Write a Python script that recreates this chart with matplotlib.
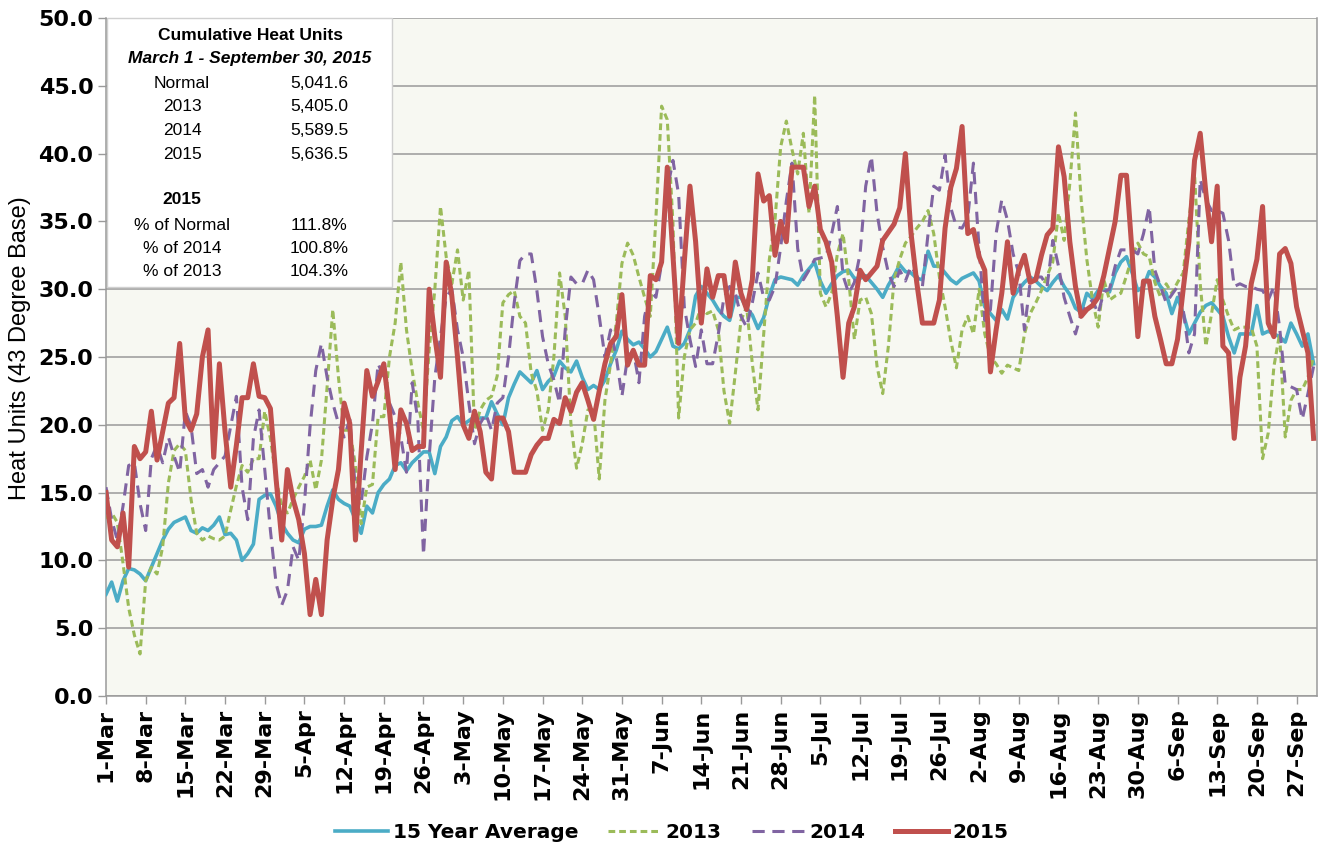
import matplotlib
matplotlib.use('Agg')
import matplotlib.pyplot as plt
import numpy as np
from matplotlib.patches import Rectangle
from matplotlib.ticker import FormatStrFormatter

plt.rcParams['font.family'] = ['Liberation Sans', 'DejaVu Sans']

# daily heat units, 1-Mar .. 30-Sep (one row = one week)
avg15 = [
    7.5, 8.4, 7.0, 8.5, 9.4, 9.3, 9.0,
    8.5, 9.5, 10.5, 11.5, 12.3, 12.8, 13.0,
    13.2, 12.2, 12.0, 12.4, 12.2, 12.6, 13.2,
    11.9, 12.0, 11.5, 10.0, 10.5, 11.2, 14.5,
    14.8, 14.9, 14.0, 12.7, 12.0, 11.5, 11.3,
    12.3, 12.5, 12.5, 12.6, 14.0, 15.2, 14.5,
    14.2, 14.0, 13.0, 12.0, 14.0, 13.5, 15.0,
    15.6, 16.0, 17.0, 17.2, 16.6, 17.2, 17.6,
    18.0, 18.0, 16.4, 18.4, 19.1, 20.3, 20.6,
    20.0, 20.3, 20.6, 20.5, 20.5, 21.7, 20.8,
    20.0, 22.0, 23.0, 23.9, 23.5, 23.1, 24.0,
    22.6, 23.2, 23.6, 24.7, 24.2, 23.9, 24.7,
    23.5, 22.6, 22.9, 22.6, 23.3, 24.5, 25.5,
    26.9, 26.3, 25.9, 26.1, 25.6, 25.0, 25.4,
    26.3, 27.2, 25.8, 25.6, 26.0, 27.0, 29.5,
    30.2, 29.7, 29.2, 28.5, 28.0, 27.7, 29.4,
    29.4, 28.6, 28.1, 27.1, 27.9, 29.5, 30.7,
    30.9, 30.8, 30.7, 30.3, 31.0, 31.5, 32.0,
    30.6, 29.7, 30.4, 31.0, 31.3, 31.4, 30.8,
    30.8, 31.0, 30.5, 30.0, 29.4, 30.3, 31.0,
    31.8, 31.3, 31.2, 30.8, 30.7, 32.8, 31.7,
    31.7, 31.2, 30.7, 30.4, 30.8, 31.0, 31.2,
    30.6, 28.7, 28.2, 27.7, 28.5, 27.8, 29.4,
    30.0, 30.5, 30.9, 30.6, 30.2, 29.9, 30.5,
    31.0, 30.2, 29.6, 28.6, 28.3, 29.7, 29.3,
    29.9, 30.0, 29.8, 31.2, 32.0, 32.4, 31.2,
    29.9, 30.2, 31.3, 30.9, 30.2, 29.7, 28.2,
    29.4, 28.2, 26.7, 27.5, 28.3, 28.8, 29.0,
    28.5, 28.0, 26.5, 25.3, 26.7, 26.7, 26.7,
    28.8, 26.7, 26.9, 26.7, 26.5, 26.1, 27.5,
    26.7, 25.8, 26.7, 24.5,
]

y2013 = [
    13.1, 13.5, 12.8, 9.8, 6.5, 4.5, 3.1,
    8.5, 9.5, 9.0, 11.0, 15.7, 18.1, 18.6,
    18.1, 14.5, 12.0, 11.5, 11.8, 11.6, 11.5,
    11.8, 13.7, 15.5, 17.0, 16.5, 17.5, 17.5,
    21.0, 19.0, 16.0, 14.0, 13.5, 14.5, 15.4,
    16.2, 17.4, 15.2, 17.4, 22.8, 28.5, 23.5,
    19.6, 19.6, 17.0, 12.7, 15.4, 15.6, 20.6,
    20.6, 25.0, 27.5, 32.0, 27.0, 24.0, 21.6,
    19.6, 25.5, 30.0, 36.1, 32.4, 30.4, 32.9,
    29.2, 31.4, 19.6, 21.1, 21.8, 22.1, 23.6,
    29.0, 29.6, 29.9, 28.0, 27.5, 23.8, 22.5,
    19.6, 21.1, 25.0, 31.2, 28.0, 20.1, 16.8,
    18.6, 21.1, 21.1, 16.0, 21.8, 24.5, 27.5,
    31.9, 33.4, 32.5, 30.9, 29.4, 28.0, 35.3,
    43.5, 42.5, 34.9, 20.5, 25.0, 27.0, 27.5,
    28.7, 28.2, 28.4, 27.0, 22.5, 20.1, 23.8,
    27.7, 28.7, 24.5, 21.1, 26.7, 32.2, 35.1,
    40.5, 42.4, 40.3, 38.5, 41.5, 35.6, 44.3,
    29.7, 28.7, 29.7, 32.6, 34.1, 30.7, 26.3,
    29.2, 29.4, 28.2, 24.3, 22.3, 25.8, 30.7,
    32.2, 33.4, 33.9, 34.5, 35.0, 35.8, 34.1,
    30.9, 28.7, 26.2, 24.2, 27.0, 28.0, 26.7,
    30.0, 26.7, 25.0, 24.5, 23.8, 24.4, 24.2,
    24.0, 26.7, 28.2, 29.0, 29.9, 31.0, 32.0,
    35.6, 33.6, 37.8, 43.0, 36.6, 32.2, 29.2,
    27.2, 30.7, 29.2, 29.5, 29.7, 31.0, 32.4,
    33.4, 32.6, 32.4, 30.5, 29.4, 30.4, 29.7,
    30.5, 31.2, 35.1, 38.5, 30.4, 25.8, 28.2,
    30.7, 29.2, 28.0, 27.0, 27.2, 27.2, 27.2,
    25.8, 17.5, 19.4, 24.3, 26.7, 19.1, 21.8,
    22.6, 22.6, 23.5, 25.0,
]

y2014 = [
    15.4, 13.0, 11.5, 14.0, 17.0, 17.2, 14.2,
    12.2, 17.5, 18.5, 17.2, 19.1, 17.7, 16.5,
    21.0, 19.9, 16.4, 16.7, 15.4, 16.7, 17.2,
    17.7, 19.9, 22.1, 15.4, 13.0, 19.0, 21.1,
    16.7, 12.2, 8.3, 6.7, 7.8, 11.0, 10.0,
    14.2, 19.9, 24.0, 26.0, 23.5, 21.6, 20.1,
    19.1, 20.4, 15.2, 14.2, 17.6, 20.1, 24.5,
    23.5, 21.6, 20.6, 19.1, 16.5, 23.1, 20.4,
    10.4, 17.6, 23.5, 26.5, 29.4, 30.0, 27.0,
    25.0, 21.6, 18.6, 20.1, 20.8, 19.6, 21.6,
    22.0, 25.0, 29.0, 32.1, 32.6, 32.6, 29.9,
    26.5, 24.5, 23.3, 21.6, 27.0, 30.9, 30.4,
    30.4, 31.4, 30.7, 28.0, 25.0, 27.0, 25.0,
    22.1, 25.0, 25.5, 23.1, 28.0, 29.9, 29.4,
    31.9, 37.3, 39.5, 37.0, 28.7, 26.3, 24.3,
    27.0, 24.5, 24.5, 26.7, 29.4, 30.2, 29.7,
    28.0, 27.2, 29.0, 31.2, 29.4, 29.2, 30.2,
    33.1, 36.5, 39.3, 33.0, 30.7, 31.4, 32.2,
    32.3, 32.4, 34.1, 36.1, 31.0, 29.7, 30.5,
    32.6, 37.6, 39.8, 35.6, 33.1, 31.2, 30.2,
    31.4, 30.6, 31.7, 31.0, 30.2, 34.1, 37.6,
    37.3, 39.9, 36.0, 34.6, 34.5, 35.3, 39.3,
    33.0, 27.7, 28.5, 34.1, 36.6, 35.1, 32.6,
    31.2, 27.0, 30.5, 30.9, 30.9, 30.2, 33.6,
    31.7, 29.4, 28.0, 26.7, 28.2, 28.8, 29.2,
    28.2, 29.8, 30.0, 31.7, 32.9, 32.9, 32.9,
    32.6, 34.1, 36.1, 31.4, 30.2, 29.0, 29.6,
    30.2, 28.5, 25.3, 26.7, 38.1, 36.6, 35.8,
    35.8, 35.6, 33.6, 30.2, 30.4, 30.2, 30.2,
    30.0, 29.9, 29.2, 30.2, 27.2, 23.0, 22.8,
    22.6, 20.4, 22.3, 24.3,
]

y2015 = [
    15.0, 11.5, 11.0, 13.5, 9.5, 18.4, 17.5,
    18.0, 21.0, 17.4, 19.5, 21.6, 22.0, 26.0,
    20.4, 19.6, 20.8, 25.0, 27.0, 17.6, 24.5,
    19.5, 15.4, 18.5, 22.0, 22.0, 24.5, 22.1,
    22.0, 21.2, 16.0, 11.5, 16.7, 14.5, 13.0,
    10.5, 6.0, 8.6, 6.0, 11.5, 14.5, 16.7,
    21.6, 20.1, 11.5, 18.0, 24.0, 22.1, 23.2,
    24.5, 21.0, 16.7, 21.1, 20.1, 18.1, 18.4,
    18.4, 30.0, 26.5, 23.5, 32.0, 29.5, 25.0,
    20.0, 19.0, 21.0, 19.5, 16.5, 16.0, 20.5,
    20.5, 19.5, 16.5, 16.5, 16.5, 17.8, 18.5,
    19.0, 19.0, 20.4, 20.1, 22.0, 21.0, 22.4,
    23.1, 21.8, 20.4, 22.5, 24.5, 26.0, 26.5,
    29.6, 24.4, 25.5, 24.4, 24.4, 31.0, 30.7,
    32.0, 39.0, 32.5, 26.0, 32.0, 37.6, 33.5,
    27.5, 31.5, 29.4, 31.0, 31.0, 28.0, 32.0,
    29.7, 28.5, 30.7, 38.5, 36.5, 36.9, 32.5,
    35.0, 33.5, 39.0, 39.0, 39.0, 36.1, 37.6,
    34.4, 33.5, 32.0, 28.0, 23.5, 27.5, 28.7,
    31.4, 30.7, 31.2, 31.7, 33.6, 34.2, 34.8,
    36.0, 40.0, 34.1, 30.5, 27.5, 27.5, 27.5,
    29.2, 34.5, 37.5, 38.9, 42.0, 34.1, 34.4,
    32.4, 31.4, 23.9, 27.0, 29.7, 33.5, 29.7,
    31.4, 32.5, 30.5, 30.7, 32.5, 34.0, 34.5,
    40.5, 38.3, 33.5, 30.2, 28.0, 28.5, 28.8,
    29.4, 31.0, 33.0, 35.0, 38.4, 38.4, 32.6,
    26.5, 30.6, 30.6, 28.0, 26.3, 24.5, 24.5,
    26.3, 30.0, 33.5, 39.5, 41.5, 37.1, 33.5,
    37.6, 25.8, 25.3, 19.0, 23.5, 25.8, 30.4,
    32.2, 36.1, 27.5, 26.5, 32.6, 33.0, 31.9,
    28.7, 27.0, 25.3, 19.0,
]

week_labels = ['1-Mar', '8-Mar', '15-Mar', '22-Mar', '29-Mar', '5-Apr', '12-Apr',
               '19-Apr', '26-Apr', '3-May', '10-May', '17-May', '24-May', '31-May',
               '7-Jun', '14-Jun', '21-Jun', '28-Jun', '5-Jul', '12-Jul', '19-Jul',
               '26-Jul', '2-Aug', '9-Aug', '16-Aug', '23-Aug', '30-Aug', '6-Sep',
               '13-Sep', '20-Sep', '27-Sep']

cum_names = ['Normal', '2013', '2014', '2015']
cum_values = ['5,041.6', '5,405.0', '5,589.5', '5,636.5']
pct_names = ['% of Normal', '% of 2014', '% of 2013']
pct_values = ['111.8%', '100.8%', '104.3%']

W, H = 1320, 848
def fx(px):
    return px / W
def fy(py):
    return 1 - py / H

fig = plt.figure(figsize=(W / 100, H / 100), dpi=100)
ax = fig.add_axes([fx(106), fy(696), 1211 / W, 678 / H])
ax.set_facecolor('#F7F8F2')

days = np.arange(len(y2015))
ax.plot(days, avg15, color='#4BACC6', lw=2.6, label='15 Year Average', zorder=3)
ax.plot(days, y2013, color='#9BBB59', lw=2.2, ls=(0, (2.2, 1.3)), label='2013', zorder=4)
ax.plot(days, y2014, color='#8064A2', lw=2.2, ls=(0, (4, 2.5)), label='2014', zorder=5)
ax.plot(days, y2015, color='#C0504D', lw=3.6, label='2015', zorder=6)

ax.set_xlim(0, 213.6)
ax.set_ylim(0, 50)
ax.set_yticks(np.arange(0, 50.1, 5))
ax.yaxis.set_major_formatter(FormatStrFormatter('%.1f'))
ax.grid(axis='y', color='#9A9A9A', lw=1.1)
ax.set_axisbelow(True)

ax.set_xticks(days[::7])
ax.set_xticklabels(week_labels, rotation=90, fontweight='bold', fontsize=16,
                   family='DejaVu Sans')
for lbl in ax.get_yticklabels():
    lbl.set_fontweight('bold')
    lbl.set_fontsize(16)
    lbl.set_family('DejaVu Sans')
ax.tick_params(axis='both', length=6, width=1, color='#9A9A9A', pad=3)

ax.spines['top'].set_visible(False)
for s in ['left', 'right', 'bottom']:
    ax.spines[s].set_color('#9A9A9A')
    ax.spines[s].set_linewidth(1.1)

fig.text(fx(20), fy(348), 'Heat Units (43 Degree Base)', rotation=90,
         ha='center', va='center', fontsize=17)

# summary box
ax.add_patch(Rectangle((fx(107), fy(287)), 285 / W, 269 / H, transform=fig.transFigure,
                       facecolor='white', edgecolor='#D0D0D0', lw=1, zorder=2, clip_on=False))
fig.text(fx(250), fy(35), 'Cumulative Heat Units', ha='center', va='center',
         fontsize=12.5, fontweight='bold', zorder=7)
fig.text(fx(250), fy(58), 'March 1 - September 30, 2015', ha='center', va='center',
         fontsize=12.5, fontweight='bold', style='italic', zorder=7)
for i, (n, v) in enumerate(zip(cum_names, cum_values)):
    yy = 83 + i * 23.7
    fig.text(fx(182), fy(yy), n, ha='center', va='center', fontsize=12.5, zorder=7)
    fig.text(fx(319), fy(yy), v, ha='center', va='center', fontsize=12.5, zorder=7)
fig.text(fx(182), fy(200), '2015', ha='center', va='center', fontsize=12.5,
         fontweight='bold', zorder=7)
for i, (n, v) in enumerate(zip(pct_names, pct_values)):
    yy = 225 + i * 23.5
    fig.text(fx(182), fy(yy), n, ha='center', va='center', fontsize=12.5, zorder=7)
    fig.text(fx(319), fy(yy), v, ha='center', va='center', fontsize=12.5, zorder=7)

handles, labels = ax.get_legend_handles_labels()
fig.legend(handles, labels, loc='center', bbox_to_anchor=(fx(672), fy(833)), ncol=4,
           frameon=False, handlelength=2.6, handletextpad=0.25, columnspacing=1.5,
           prop={'family': 'DejaVu Sans', 'weight': 'bold', 'size': 14.5})

fig.savefig('out.png', dpi=100)
